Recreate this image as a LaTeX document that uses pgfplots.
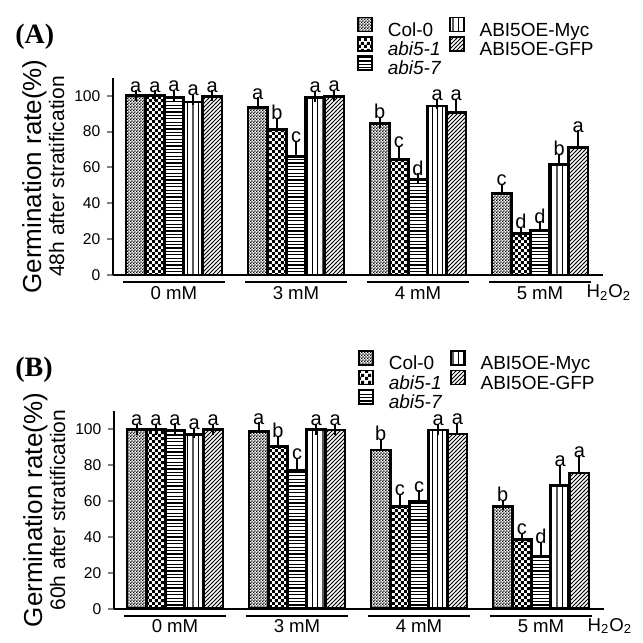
\documentclass[border=0pt]{standalone}
\usepackage{fontspec}
\setmainfont{Liberation Sans}
\newfontfamily\serifbf{Liberation Serif}
\usepackage{pgfplots}
\pgfplotsset{compat=1.18}
\usepackage{pgfplotstable}
\usetikzlibrary{patterns}

% bar fill patterns
\pgfdeclarepatternformonly{finecheck}{\pgfpointorigin}{\pgfqpoint{1.6pt}{1.6pt}}{\pgfqpoint{1.6pt}{1.6pt}}{%
  \pgfpathrectangle{\pgfpointorigin}{\pgfqpoint{0.8pt}{0.8pt}}%
  \pgfpathrectangle{\pgfqpoint{0.8pt}{0.8pt}}{\pgfqpoint{0.8pt}{0.8pt}}%
  \pgfusepath{fill}}
\pgfdeclarepatternformonly{coarsecheck}{\pgfpointorigin}{\pgfqpoint{3.2pt}{3.2pt}}{\pgfqpoint{3.2pt}{3.2pt}}{%
  \pgfpathrectangle{\pgfpointorigin}{\pgfqpoint{1.6pt}{1.6pt}}%
  \pgfpathrectangle{\pgfqpoint{1.6pt}{1.6pt}}{\pgfqpoint{1.6pt}{1.6pt}}%
  \pgfusepath{fill}}
\pgfdeclarepatternformonly{hlin}{\pgfpointorigin}{\pgfqpoint{100pt}{0.6pt}}{\pgfqpoint{100pt}{1.7pt}}{%
  \pgfsetlinewidth{0.6pt}\pgfpathmoveto{\pgfqpoint{0pt}{0.3pt}}\pgfpathlineto{\pgfqpoint{100pt}{0.3pt}}\pgfusepath{stroke}}
\pgfdeclarepatternformonly{vlin}{\pgfpointorigin}{\pgfqpoint{0.6pt}{100pt}}{\pgfqpoint{2.6pt}{100pt}}{%
  \pgfsetlinewidth{0.6pt}\pgfpathmoveto{\pgfqpoint{0.3pt}{0pt}}\pgfpathlineto{\pgfqpoint{0.3pt}{100pt}}\pgfusepath{stroke}}
\pgfdeclarepatternformonly{nelin}{\pgfqpoint{-1pt}{-1pt}}{\pgfqpoint{3pt}{3pt}}{\pgfqpoint{2pt}{2pt}}{%
  \pgfsetlinewidth{0.45pt}\pgfpathmoveto{\pgfqpoint{0pt}{0pt}}\pgfpathlineto{\pgfqpoint{2.1pt}{2.1pt}}\pgfusepath{stroke}}

\pgfplotstableread{
x c0   c0e c0l a1   a1e a1l a7   a7e a7l my   mye myl gf   gfe gfl
0 100  0   a   100  0   a   99   1.2 a   96.5 1.5 a   99.5 0.5 a
1 93.5 2.5 a   81.2 3.5 b   66   6   c   98.9 0.8 a   99.4 0.8 a
2 84.6 0.6 b   64.5 4.5 c   53.3 0.3 d   94.2 1.2 a   90.5 4.8 a
3 45.5 2.5 c   23.2 0.6 d   25.1 1.8 d   61.7 3   b   71.2 6.5 a
}\dataA
\pgfplotstableread{
x c0   c0e c0l a1   a1e a1l a7   a7e a7l my   mye myl gf   gfe gfl
0 100  0   a   100  0   a   99.3 1   a   97   1   a   100  0   a
1 98.7 2.3 a   90.6 2.7 b   77   4   c   100  0   a   99.6 0.4 a
2 88.5 3.4 b   57   4   c   59.8 3.2 c   99.6 0.4 a   97.4 3.2 a
3 57   0.8 b   38.5 0.9 c   29.3 5   d   68.7 8.7 a   75.6 7   a
}\dataB

\pgfplotsset{
  panel/.style={
    x=61pt, y=0.8965pt,
    xmin=-0.5, xmax=3.516, ymin=0, ymax=110,
    clip=false,
    axis lines*=left,
    axis line style={-, line width=1pt},
    ytick={0,20,...,100},
    ytick style={line width=1pt},
    tick align=outside,
    major tick length=2.8pt,
    xtick={0,1,2,3},
    xticklabels={0 mM,3 mM,4 mM,5 mM},
    xtick style={draw=none},
    xticklabel style={anchor=base, yshift=-9.2pt, font=\fontsize{9.3}{9.3}\selectfont},
    yticklabel style={font=\fontsize{7.8}{7.8}\selectfont},
    /pgf/number format/assume math mode=true,
    every axis y label/.style={at={(axis description cs:-0.085,0.5)}, anchor=south, rotate=90,
      align=center, font=\fontsize{13}{11.5}\selectfont},
    legend columns=2,
    legend cell align=left,
    legend style={draw=none, fill=none, inner sep=0pt, anchor=north west,
      at={(axis description cs:0.498,1.312)}, row sep=-2pt,
      font=\fontsize{9.5}{9.5}\selectfont,
      nodes={inner sep=0.3pt, text height=6.8pt, text depth=1.5pt},
      /tikz/every odd column/.append style={column sep=7pt},
      /tikz/every even column/.append style={column sep=4pt}},
    legend image code/.code={\draw[#1, line width=0.9pt] (0pt,-0.3pt) rectangle (7pt,6.7pt);},
  },
  ser/.style={ybar, bar width=0.157, bar shift=0pt, draw=black, line width=1.3pt,
    pattern=#1, forget plot,
    error bars/.cd, y dir=plus, y explicit,
    error bar style={line width=1.1pt},
    error mark options={line width=1.1pt, mark size=2.7pt}},
  lab/.style={draw=none, mark=none, forget plot,
    nodes near coords, point meta=explicit symbolic,
    every node near coord/.append style={text=black, inner sep=1.5pt, anchor=south,
      font=\fontsize{10}{10}\selectfont}},
}

\newcommand\panelplots[1]{%
  \addplot[ser=finecheck] table[x expr=\thisrow{x}-0.314, y=c0, y error=c0e]{#1};
  \addplot[ser=coarsecheck] table[x expr=\thisrow{x}-0.157, y=a1, y error=a1e]{#1};
  \addplot[ser=hlin] table[x=x, y=a7, y error=a7e]{#1};
  \addplot[ser=vlin] table[x expr=\thisrow{x}+0.157, y=my, y error=mye]{#1};
  \addplot[ser=nelin] table[x expr=\thisrow{x}+0.314, y=gf, y error=gfe]{#1};
  \addplot[lab] table[x expr=\thisrow{x}-0.314, y expr=\thisrow{c0}+\thisrow{c0e}, meta=c0l]{#1};
  \addplot[lab] table[x expr=\thisrow{x}-0.157, y expr=\thisrow{a1}+\thisrow{a1e}, meta=a1l]{#1};
  \addplot[lab] table[x=x, y expr=\thisrow{a7}+\thisrow{a7e}, meta=a7l]{#1};
  \addplot[lab] table[x expr=\thisrow{x}+0.157, y expr=\thisrow{my}+\thisrow{mye}, meta=myl]{#1};
  \addplot[lab] table[x expr=\thisrow{x}+0.314, y expr=\thisrow{gf}+\thisrow{gfe}, meta=gfl]{#1};
  \addlegendimage{pattern=finecheck, draw=black}\addlegendentry{Col-0}
  \addlegendimage{pattern=vlin, draw=black}\addlegendentry{ABI5OE-Myc}
  \addlegendimage{pattern=coarsecheck, draw=black}\addlegendentry{\itshape abi5-1}
  \addlegendimage{pattern=nelin, draw=black}\addlegendentry{ABI5OE-GFP}
  \addlegendimage{pattern=hlin, draw=black}\addlegendentry{\itshape abi5-7}
  % group underlines below the x axis
  \draw[line width=1.1pt] ([yshift=-3.5pt]axis cs:-0.42,0) -- ([yshift=-3.5pt]axis cs:0.42,0);
  \draw[line width=1.1pt] ([yshift=-3.5pt]axis cs:0.58,0) -- ([yshift=-3.5pt]axis cs:1.42,0);
  \draw[line width=1.1pt] ([yshift=-3.5pt]axis cs:1.58,0) -- ([yshift=-3.5pt]axis cs:2.42,0);
  \draw[line width=1.1pt] ([yshift=-3.5pt]axis cs:2.58,0) -- ([yshift=-3.5pt]axis cs:3.42,0);
  \node[anchor=base west, font=\fontsize{9.3}{9.3}\selectfont] at ([yshift=-11.2pt]axis cs:3.325,0)
    {H\textsubscript{2}O\textsubscript{2}};
}

\begin{document}
\begin{tikzpicture}
\begin{axis}[panel, at={(0pt,0pt)}, anchor=south west,
  ylabel={Germination rate(\%)\\{\fontsize{10.5}{11.5}\selectfont 48h after stratification}}]
  \panelplots{\dataA}
\end{axis}
\node[anchor=north west, inner sep=0pt, font=\serifbf\bfseries\fontsize{14}{14}\selectfont] at (-49pt,125.5pt) {(A)};

\begin{axis}[panel, at={(0.5pt,-166.85pt)}, anchor=south west,
  ylabel={Germination rate(\%)\\{\fontsize{10.5}{11.5}\selectfont 60h after stratification}}]
  \panelplots{\dataB}
\end{axis}
\node[anchor=north west, inner sep=0pt, font=\serifbf\bfseries\fontsize{14}{14}\selectfont] at (-49pt,-41pt) {(B)};

\pgfresetboundingbox
\path (-56.5pt,137.5pt) rectangle (265pt,-184pt);
\end{tikzpicture}
\end{document}
